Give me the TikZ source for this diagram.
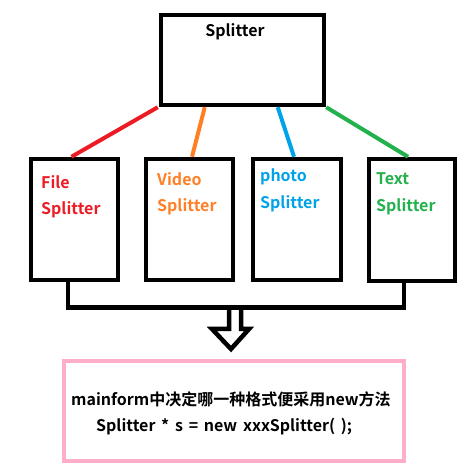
\documentclass[tikz,border=0pt]{standalone}
\usepackage{fontspec}
\setmainfont{Noto Sans CJK SC}[BoldFont=* Bold]
\definecolor{pred}{RGB}{237,28,36}
\definecolor{porange}{RGB}{255,127,39}
\definecolor{pblue}{RGB}{0,162,232}
\definecolor{pgreen}{RGB}{34,177,76}
\definecolor{ppink}{RGB}{255,174,201}
\begin{document}
\begin{tikzpicture}[x=1pt,y=-1pt,
  box/.style={draw=black,line width=4.5pt,inner sep=0pt,fill=white},
  lbl/.style={font=\fontsize{16}{19}\selectfont\bfseries,anchor=west,inner sep=0pt},
  conn/.style={line width=4pt},
  blk/.style={line width=4.5pt,draw=black}]
\useasboundingbox (0,0) rectangle (472,470);
\node[box,minimum width=163pt,minimum height=90pt] (top) at (242.5,60) {};
\node[lbl,anchor=center] (toplbl) at (235,32) {Splitter};
\node[box,minimum width=87pt,minimum height=121pt] (f) at (74.5,219.5) {};
\node[box,minimum width=87pt,minimum height=121pt] (v) at (189.5,219.5) {};
\node[box,minimum width=88pt,minimum height=121pt] (p) at (297,219.5) {};
\node[box,minimum width=86pt,minimum height=122pt] (t) at (412,220) {};
\node[lbl,text=pred] (f1) at (41,182) {File};
\node[lbl,text=pred] (f2) at (41,210) {Splitter};
\node[lbl,text=porange] (v1) at (157,179) {Video};
\node[lbl,text=porange] (v2) at (157,207) {Splitter};
\node[lbl,text=pblue] (p1) at (260,177) {photo};
\node[lbl,text=pblue] (p2) at (260,204) {Splitter};
\node[lbl,text=pgreen] (t1) at (376,179) {Text};
\node[lbl,text=pgreen] (t2) at (376,207) {Splitter};
\draw[conn,pred] ([xshift=-1pt]top.south west) -- ([xshift=-3pt]f.north);
\draw[conn,porange] ([xshift=46pt]top.south west) -- ([xshift=2.5pt]v.north);
\draw[conn,pblue] ([xshift=119pt]top.south west) -- ([xshift=-3pt]p.north);
\draw[conn,pgreen] (top.south east) -- ([xshift=-4pt]t.north);
\coordinate (jl) at (68,307.5);
\coordinate (jr) at (404,307.5);
\draw[blk] (f.south -| jl) -- (jl) -- (jr) -- (t.south -| jr);
\node[draw=ppink,line width=4.5pt,minimum width=340pt,minimum height=100pt,inner sep=0pt] (m) at (234,411) {};
\coordinate (tip) at (231,349);
\draw[blk,line join=miter] (229,307.5) -- (229,329) -- (212,329) -- (tip) -- (249,329) -- (241,329) -- (241,307.5);
\node[lbl] (m1) at (71,399) {mainform中决定哪一种格式便采用new方法};
\node[lbl] (m2) at (96,427) {\spaceskip=0.36em\relax Splitter * s = new xxxSplitter( );};
\end{tikzpicture}
\end{document}
